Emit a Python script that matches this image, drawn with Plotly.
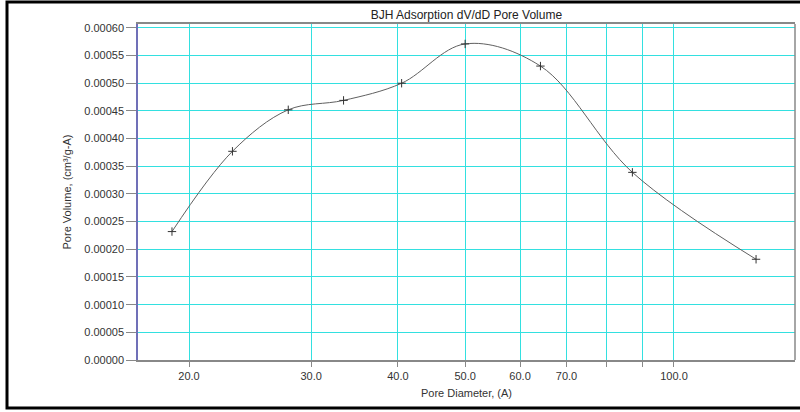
import plotly.graph_objects as go

pore_diameter = [18.9, 23.1, 27.8, 33.4, 40.5, 50.0, 64.2, 87.1, 131.3]
pore_volume = [0.000232, 0.000377, 0.000452, 0.000469, 0.000500, 0.000571, 0.000531, 0.000339, 0.000182]

x_tickvals = [20, 30, 40, 50, 60, 70, 80, 90, 100]
x_ticktext = ["20.0", "30.0", "40.0", "50.0", "60.0", "70.0", "", "", "100.0"]

font_family = "Liberation Sans, Arial, sans-serif"

fig = go.Figure()
fig.add_trace(go.Scatter(
    x=pore_diameter, y=pore_volume,
    mode="lines+markers",
    line=dict(color="#606060", width=1, shape="spline", smoothing=1.0),
    marker=dict(symbol="cross-thin", size=6, line=dict(color="#333333", width=1)),
    showlegend=False,
))

fig.update_layout(
    width=800, height=412,
    margin=dict(l=138, r=5, t=24, b=52),
    paper_bgcolor="white", plot_bgcolor="white",
    font=dict(family=font_family, size=11, color="#333333"),
    title=dict(text="BJH Adsorption dV/dD Pore Volume", x=0.583, xanchor="center",
               y=1 - 15 / 412, yanchor="middle",
               font=dict(family=font_family, size=12, color="#222222")),
    xaxis=dict(
        type="log", range=[1.2275, 2.1744],
        tickvals=x_tickvals, ticktext=x_ticktext,
        showgrid=True, gridcolor="#33e0e0", gridwidth=1,
        showline=True, linecolor="#888888", linewidth=1.5, mirror=True,
        ticks="outside", ticklen=5, tickcolor="#888888",
        zeroline=False,
        title=dict(text="Pore Diameter, (A)", standoff=8, font=dict(size=11)),
    ),
    yaxis=dict(
        range=[0, 0.000607], dtick=0.00005, tick0=0, tickformat=".5f",
        showgrid=True, gridcolor="#33e0e0", gridwidth=1,
        showline=True, linecolor="#7070b8", linewidth=1.5,
        ticks="outside", ticklen=10, tickcolor="#888888",
        zeroline=False,
        title=dict(text="Pore Volume, (cm³/g-A)", standoff=10, font=dict(size=11)),
    ),
    shapes=[
        dict(type="line", xref="paper", yref="paper", x0=1, x1=1, y0=0, y1=1,
             line=dict(color="#888888", width=1.5)),
        dict(type="rect", xref="paper", yref="paper",
             x0=(7 - 138) / 657, x1=1.02, y0=(360 - 408) / 336, y1=(360 - 2) / 336,
             line=dict(color="black", width=3)),
    ],
)

fig.write_html("out.html")
